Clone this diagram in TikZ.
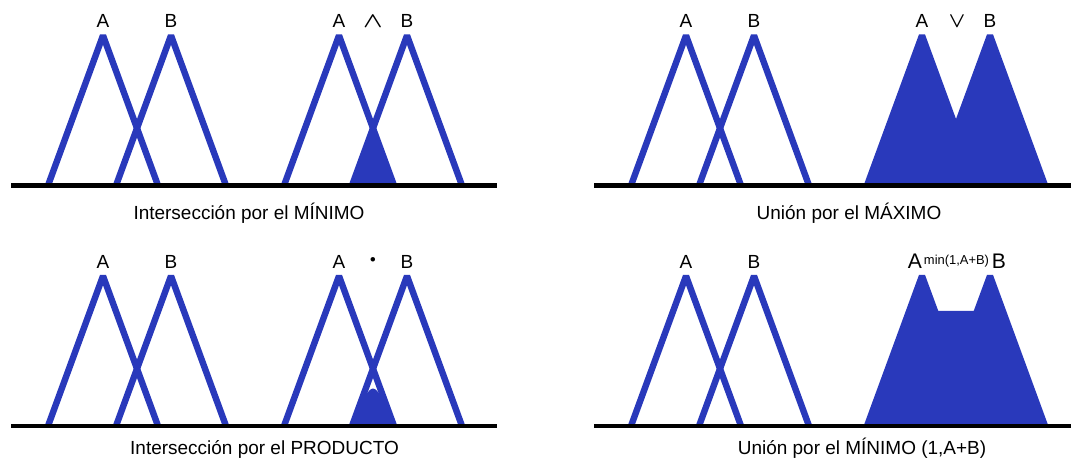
\documentclass[tikz,border=0pt]{standalone}
\usepackage{fontspec}
\setmainfont{Liberation Sans}
\newfontfamily\opfont{DejaVu Sans}
\usepackage{tikz}
\usetikzlibrary{positioning}
\definecolor{setblue}{RGB}{41,57,187}
\tikzset{
  memb/.style={line width=1.6mm,draw=setblue,line join=bevel},
  area/.style={fill=setblue},
  areaedge/.style={fill=setblue,draw=setblue,line width=1.6mm,line join=bevel},
  axis/.style={line width=1.15mm,draw=black},
  setlbl/.style={font=\fontsize{13.5}{16}\selectfont,anchor=base,inner sep=0pt},
  oplbl/.style={font=\fontsize{17}{20}\selectfont\boldmath,inner sep=0pt},
  minlbl/.style={font=\fontsize{9.2}{11}\selectfont,anchor=base,inner sep=0pt},
  capt/.style={font=\fontsize{13.5}{16}\selectfont,anchor=base,inner sep=0pt}
}

\begin{document}
\begin{tikzpicture}[x=0.25mm,y=0.25mm]
  \useasboundingbox (0,0) rectangle (1071,459);

  \begin{scope}[shift={(11,273.5)}]
  \draw[memb] (37,0)--(92,150)--(147,0);
  \draw[memb] (105,0)--(160,150)--(215,0);
  \fill[area] (341,0)--(362,57.3)--(383,0)--cycle;
  \draw[memb] (273,0)--(328,150)--(383,0);
  \draw[memb] (341,0)--(396,150)--(451,0);
  \draw[axis] (0,0)--(486,0);
  \node[setlbl] (minA) at (92,157.5) {A};
  \node[setlbl] (minB) at (160,157.5) {B};
  \node[setlbl] (minA2) at (328,157.5) {A};
  \node[oplbl] (minop) at (362,163.5) {\scalebox{1.05}[0.88]{$\wedge$}};
  \node[setlbl] (minB2) at (396,157.5) {B};
  \node[capt] (mincap) at (238,-34.5) {Intersección por el MÍNIMO};
  \end{scope}

  \begin{scope}[shift={(594,273.5)}]
  \draw[memb] (37,0)--(92,150)--(147,0);
  \draw[memb] (105,0)--(160,150)--(215,0);
  \begin{scope}
  \clip (-10,0) rectangle (490,200);
  \filldraw[areaedge] (273,0)--(328,150)--(383,0)--cycle;
  \filldraw[areaedge] (341,0)--(396,150)--(451,0)--cycle;
  \end{scope}
  \draw[axis] (0,0)--(477,0);
  \node[setlbl] (maxA) at (92,157.5) {A};
  \node[setlbl] (maxB) at (160,157.5) {B};
  \node[setlbl] (maxA2) at (328,157.5) {A};
  \node[oplbl] (maxop) at (363,163.5) {\scalebox{0.88}[0.88]{$\vee$}};
  \node[setlbl] (maxB2) at (396,157.5) {B};
  \node[capt] (maxcap) at (255,-34.5) {Unión por el MÁXIMO};
  \end{scope}

  \begin{scope}[shift={(11,33)}]
  \draw[memb] (37,0)--(92,150)--(147,0);
  \draw[memb] (105,0)--(160,150)--(215,0);
  \fill[area] (341,0) .. controls (362,50) .. (383,0)--cycle;
  \draw[memb] (273,0)--(328,150)--(383,0);
  \draw[memb] (341,0)--(396,150)--(451,0);
  \draw[axis] (0,0)--(486,0);
  \node[setlbl] (prodA) at (92,157.5) {A};
  \node[setlbl] (prodB) at (160,157.5) {B};
  \node[setlbl] (prodA2) at (328,157.5) {A};
  \node[inner sep=0pt,font=\opfont\fontsize{11}{12}\selectfont] (prodop) at (362,164) {•};
  \node[setlbl] (prodB2) at (396,157.5) {B};
  \node[capt] (prodcap) at (253.5,-28) {Intersección por el PRODUCTO};
  \end{scope}

  \begin{scope}[shift={(594,33)}]
  \draw[memb] (37,0)--(92,150)--(147,0);
  \draw[memb] (105,0)--(160,150)--(215,0);
  \begin{scope}
  \clip (-10,0) rectangle (490,200);
  \filldraw[areaedge] (273,0)--(328,150)--(342,112)--(382,112)--(396,150)--(451,0)--cycle;
  \end{scope}
  \draw[axis] (0,0)--(477,0);
  \node[setlbl] (sumA) at (92,157.5) {A};
  \node[setlbl] (sumB) at (160,157.5) {B};
  \node[setlbl,font=\fontsize{15}{18}\selectfont] (sumA2) at (321,157.5) {A};
  \node[minlbl] (sumop) at (362.5,161) {min(1,A+B)};
  \node[setlbl,font=\fontsize{15}{18}\selectfont] (sumB2) at (405,157.5) {B};
  \node[capt] (sumcap) at (268,-28) {Unión por el MÍNIMO (1,A+B)};
  \end{scope}
\end{tikzpicture}
\end{document}
